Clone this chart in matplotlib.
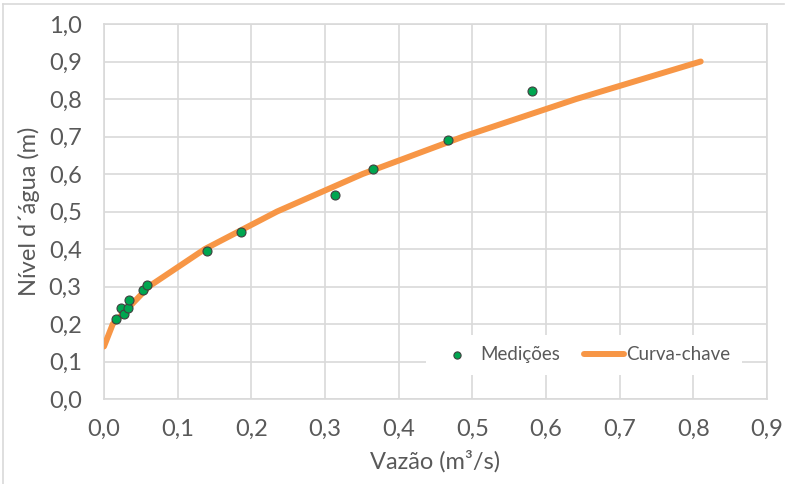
import matplotlib.pyplot as plt
from matplotlib.lines import Line2D
from matplotlib.ticker import MultipleLocator, FuncFormatter

# measured points (discharge, stage)
q_med = [0.017, 0.023, 0.027, 0.033, 0.034, 0.053, 0.058, 0.140, 0.186, 0.313, 0.365, 0.467, 0.581]
h_med = [0.213, 0.242, 0.226, 0.242, 0.264, 0.291, 0.304, 0.395, 0.445, 0.544, 0.613, 0.690, 0.821]

# rating curve
q_curva = [0.0, 0.012, 0.061, 0.137, 0.235, 0.351, 0.488, 0.641, 0.810]
h_curva = [0.14, 0.20, 0.30, 0.40, 0.50, 0.60, 0.70, 0.80, 0.90]

plt.rcParams['font.family'] = ['Lato', 'DejaVu Sans']
cinza = '#595959'
grade = '#d9d9d9'

fig = plt.figure(figsize=(7.9, 4.84), dpi=100)
ax = fig.add_axes([0.1316, 0.1756, 0.8393, 0.7748])

linha, = ax.plot(q_curva, h_curva, color='#F79646', lw=4.3, solid_capstyle='round',
                 label='Curva-chave', zorder=3)
pontos = ax.scatter(q_med, h_med, s=42, color='#00A650', edgecolor='#404040', lw=0.8,
                    label='Medições', zorder=4)

ax.set_xlim(0, 0.9)
ax.set_ylim(0, 1.0)
ax.xaxis.set_major_locator(MultipleLocator(0.1))
ax.yaxis.set_major_locator(MultipleLocator(0.1))
fmt = FuncFormatter(lambda v, p: f'{v:.1f}'.replace('.', ','))
ax.xaxis.set_major_formatter(fmt)
ax.yaxis.set_major_formatter(fmt)
ax.grid(True, color=grade, lw=1.2)
ax.set_axisbelow(True)
for s in ax.spines.values():
    s.set_color(grade)
    s.set_linewidth(1.2)
ax.tick_params(length=0, labelsize=17, colors=cinza)
ax.tick_params(axis='y', pad=16)
ax.tick_params(axis='x', pad=14)

ax.set_xlabel('Vazão (m³/s)', fontsize=17, color=cinza, labelpad=8)
ax.set_ylabel('Nível d´água (m)', fontsize=17, color=cinza, labelpad=6)

leg = ax.legend([pontos, linha], ['Medições', 'Curva-chave'],
                loc='lower right', bbox_to_anchor=(0.976, 0.04), ncol=2,
                frameon=True, fontsize=13.5, handlelength=2.1, columnspacing=1.3,
                handletextpad=0.15, borderpad=0.6, markerscale=0.8)
leg.get_frame().set_edgecolor('none')
leg.get_frame().set_facecolor('white')
leg.get_frame().set_alpha(1)
for t in leg.get_texts():
    t.set_color(cinza)

# light border of the chart area
fig.add_artist(Line2D([0.004, 0.004], [0.0, 0.992], color=grade, lw=1.2))
fig.add_artist(Line2D([0.004, 0.992], [0.992, 0.992], color=grade, lw=1.2))

fig.savefig('out.png', dpi=100)
